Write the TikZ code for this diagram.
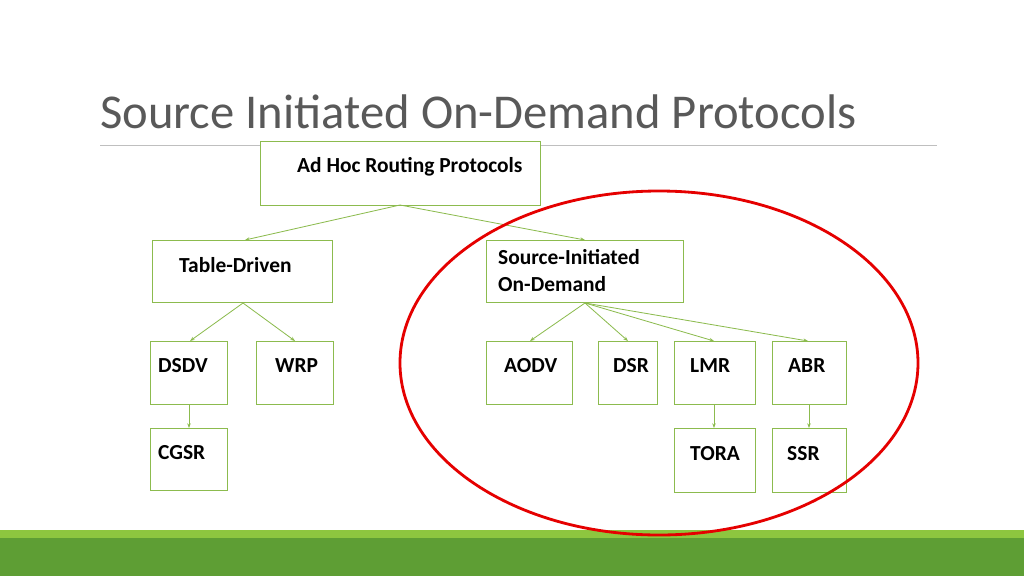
\documentclass[tikz,border=0pt]{standalone}
\usepackage{fontspec}
\usetikzlibrary{arrows.meta}
\setmainfont{Carlito}
\definecolor{bx}{HTML}{8CBB4E}
\definecolor{gd}{HTML}{5E9E34}
\definecolor{gl}{HTML}{8DC63F}
\begin{document}
\begin{tikzpicture}[x=0.03cm,y=-0.03cm,
  box/.style={draw=bx,line width=0.8pt,fill=white},
  lbl/.style={font=\bfseries\fontsize{18.3}{21}\selectfont,inner sep=0pt,anchor=west},
  con/.style={draw=bx,line width=0.7pt,-{Stealth[length=4pt,width=3pt]}}]
\useasboundingbox (0,0) rectangle (1024,576);
\fill[white] (0,0) rectangle (1024,576);
\fill[gl] (0,530) rectangle (1024,538);
\fill[gd] (0,538) rectangle (1024,576);
\node[anchor=base west,inner sep=0pt,font=\fontsize{41.5}{44}\selectfont,text=black!65] (title) at (100,128) {Source Initiated On-Demand Protocols};
\draw[black!25,line width=0.6pt] (100,145) -- (937,145);
% boxes
\draw[box] (260,141) rectangle (540,205); \node[lbl] (root) at (297,167) {Ad Hoc Routing Protocols};
\draw[box] (152,240) rectangle (332,302); \node[lbl] (td) at (179,265) {Table-Driven};
\draw[box] (486,240) rectangle (683,302); \node[lbl,align=left] (si) at (498,271) {Source-Initiated\\[2pt]On-Demand};
\foreach \n/\a/\b/\c/\d/\t/\tx/\ty in {dsdv/150/341/227/404/DSDV/158/366, wrp/256/341/333/404/WRP/275/366, aodv/486/341/572/404/AODV/504/366, dsr/598/341/657/404/DSR/613/366, lmr/674/341/755/404/LMR/690/366, abr/772/341/846/404/ABR/788/366, cgsr/150/428/227/490/CGSR/158/453, tora/674/428/755/492/TORA/690/454, ssr/772/428/846/492/SSR/787/454}{
  \draw[box] (\a,\b) rectangle (\c,\d); \node[lbl] (\n) at (\tx,\ty) {\t};}
\coordinate (rb) at (400,205); \coordinate (tdt) at (245,240); \coordinate (sit) at (585,240);
\coordinate (tdb) at (243,303); \coordinate (sib) at (585,303);
\coordinate (dsdvt) at (190,341); \coordinate (wrpt) at (295,341);
\coordinate (aodvt) at (530,341); \coordinate (dsrt) at (628,341); \coordinate (lmrt) at (714,341); \coordinate (abrt) at (808,341);
\coordinate (dsdvb) at (189,404); \coordinate (cgsrt) at (189,428);
\coordinate (lmrb) at (714,404); \coordinate (torat) at (714,428);
\coordinate (abrb) at (809,404); \coordinate (ssrt) at (809,428);
\draw[con] (rb) -- (tdt); \draw[con] (rb) -- (sit);
\draw[con] (tdb) -- (dsdvt); \draw[con] (tdb) -- (wrpt);
\foreach \t in {aodvt,dsrt,lmrt,abrt} \draw[con] (sib) -- (\t);
\draw[con] (dsdvb) -- (cgsrt); \draw[con] (lmrb) -- (torat); \draw[con] (abrb) -- (ssrt);
\draw[red!90!black,line width=2.4pt] (659,363) ellipse [x radius=259,y radius=172];
\end{tikzpicture}
\end{document}
